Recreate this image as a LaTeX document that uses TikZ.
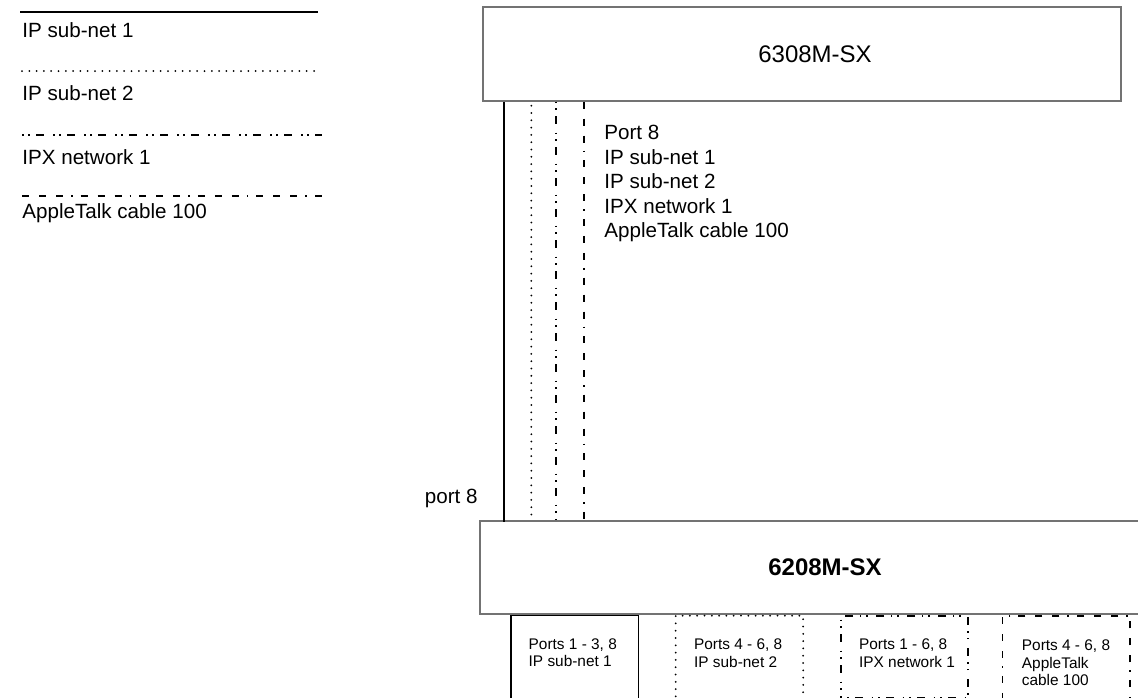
\documentclass[tikz,border=0pt]{standalone}
\usepackage{fontspec}
\setmainfont{Liberation Sans}
\usetikzlibrary{positioning}

\tikzset{
  ipnet1/.style={line width=1pt},
  ipnet2/.style={line width=1pt, line cap=round, dash pattern=on 0pt off 3.65pt},
  ipxnet/.style={line width=0.9pt, dash pattern=on 0.8pt off 2.4pt on 0.8pt off 3.2pt on 4pt off 4.3pt},
  atalk/.style={line width=0.9pt, dash pattern=on 3.5pt off 5pt on 3.5pt off 5pt on 3.5pt off 4pt on 0.8pt off 4pt},
  switchbox/.style={draw=black!55, line width=0.7pt, inner sep=0pt, font=\fontsize{12}{14}\selectfont},
  portbox/.style={draw, line width=0.7pt, minimum width=63.75pt, minimum height=47.5pt, inner sep=0pt, anchor=north west},
  portlbl/.style={align=left, inner sep=0pt, font=\fontsize{7.7}{8.6}\selectfont},
  legendlbl/.style={anchor=base west, inner sep=0pt, font=\fontsize{10.3}{12.25}\selectfont},
}

\begin{document}
\begin{tikzpicture}[x=0.5pt, y=-0.5pt]
  \useasboundingbox (0,0) rectangle (1138,697);
  \clip (0,0) rectangle (1138,697);

  % legend
  \draw[ipnet1] (20,12) -- (318,12);
  \node[legendlbl] (leg1) at (22,37) {IP sub-net 1};
  \draw[ipnet2] (22,71) -- (320,71);
  \node[legendlbl] (leg2) at (22,100) {IP sub-net 2};
  \draw[ipxnet] (22,135) -- (322,135);
  \node[legendlbl] (leg3) at (22,164) {IPX network 1};
  \draw[atalk] (22,196) -- (326,196);
  \node[legendlbl] (leg4) at (22,218) {AppleTalk cable 100};

  % switches
  \node[switchbox, minimum width=319pt, minimum height=47pt] (sw6308) at (802,54) {\hspace{13pt}6308M-SX};
  \node[switchbox, minimum width=345pt, minimum height=46.5pt, font=\bfseries\fontsize{12}{14}\selectfont] (sw6208) at (825,567.5) {6208M-SX};

  % trunk between the switches
  \draw[ipnet1] ([xshift=11pt]sw6308.south west) -- ([xshift=11pt,yshift=-1pt]sw6308.south west |- sw6208.north);
  \draw[ipnet2] ([xshift=24.5pt,yshift=-2pt]sw6308.south west) -- ([xshift=24.5pt]sw6308.south west |- sw6208.north);
  \draw[ipxnet] ([xshift=37pt]sw6308.south west) -- ([xshift=37pt]sw6308.south west |- sw6208.north);
  \draw[atalk] ([xshift=51pt]sw6308.south west) -- ([xshift=51pt]sw6308.south west |- sw6208.north);

  \node[legendlbl, anchor=north west, align=left] (trunk) at (604,125) {Port 8\\IP sub-net 1\\IP sub-net 2\\IPX network 1\\AppleTalk cable 100};
  \node[legendlbl, anchor=base east] (port8) at (478,503) {port 8};

  % port groups
  \node[portbox] (grp1) at ([xshift=15.5pt]sw6208.south west) {};
  \node[portbox, ipnet2, right=17.75pt of grp1.north east, anchor=north west] (grp2) {};
  \node[portbox, ipxnet, minimum height=41pt, right=17.75pt of grp2.north east, anchor=north west] (grp3) {};
  \node[portbox, atalk, right=16.25pt of grp3.north east, anchor=north west] (grp4) {};

  \node[portlbl, below right=11.75pt and 9pt of grp1.north west] (grp1txt) {Ports 1 - 3, 8\\IP sub-net 1};
  \node[portlbl, below right=12pt and 9.5pt of grp2.north west] (grp2txt) {Ports 4 - 6, 8\\IP sub-net 2};
  \node[portlbl, below right=12pt and 9.5pt of grp3.north west] (grp3txt) {Ports 1 - 6, 8\\IPX network 1};
  \node[portlbl, below right=12.5pt and 10pt of grp4.north west] (grp4txt) {Ports 4 - 6, 8\\AppleTalk\\cable 100};
\end{tikzpicture}
\end{document}
